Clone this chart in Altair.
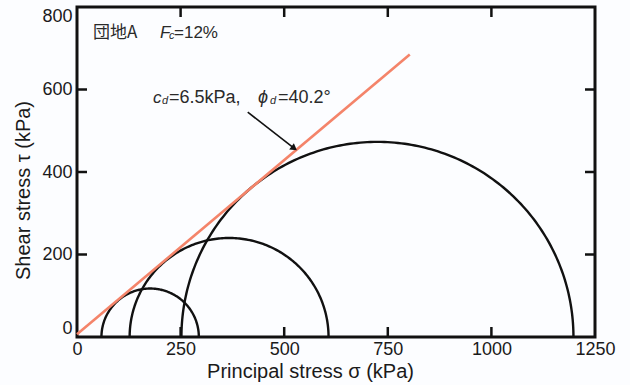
import altair as alt
import pandas as pd

# ---- data ----
sigma3 = [59, 127, 252]        # minor principal stress (kPa)
sigma1 = [294, 607, 1198]      # major principal stress (kPa)
c_d = 6.5                      # cohesion (kPa)
phi_d = 40.2                   # friction angle (deg)
env_sigma = [0, 803]           # extent of failure envelope (kPa)
x_ticks = [250, 500, 750, 1000]
y_ticks = [200, 400, 600]
arrow_sigma = [412, 522]
arrow_tau = [545, 459]

W, H = 518, 330
FONT = "Liberation Sans"
INK = "#1a1a1a"

xs = alt.Scale(domain=[0, 1250], nice=False, zero=False)
ys = alt.Scale(domain=[0, 800], nice=False, zero=False)

xaxis = alt.Axis(values=[0, 250, 500, 750, 1000, 1250], format="d", ticks=False, domain=False,
                 grid=False, labelFont=FONT, labelFontSize=18, labelColor=INK, labelPadding=3,
                 title="Principal stress σ (kPa)", titleFont=FONT, titleFontSize=20,
                 titleFontWeight="normal", titleColor=INK, titleX=233, titleY=40,
                 titleBaseline="alphabetic", titleAnchor="middle", labelFlush=False)
yaxis = alt.Axis(values=[0, 200, 400, 600, 800], format="d", ticks=False, domain=False, grid=False,
                 labelFont=FONT, labelFontSize=18, labelColor=INK, labelPadding=5,
                 labelFlush=True,
                 title="Shear stress τ (kPa)", titleFont=FONT, titleFontSize=20,
                 titleFontWeight="normal", titleColor=INK, titleX=-54, titleY=183,
                 titleAngle=270, titleBaseline="middle", titleAlign="center")


def X(f):
    return alt.X(f, scale=xs, axis=xaxis)


def Y(f):
    return alt.Y(f, scale=ys, axis=yaxis)


layers = []

# Mohr circles
for i, (s3, s1) in enumerate(zip(sigma3, sigma1)):
    c = (s1 + s3) / 2
    r = (s1 - s3) / 2
    circ = alt.Chart(alt.sequence(0, 180.5, 1, as_="t")).transform_calculate(
        s=f"{c} + {r}*cos(datum.t*PI/180)",
        tau=f"{r}*sin(datum.t*PI/180)",
    ).mark_line(color="#111", strokeWidth=2.4).encode(
        x=X("s:Q"), y=Y("tau:Q"), order="t:Q",
    )
    layers.append(circ)

# failure envelope
env = alt.Chart(pd.DataFrame({"s": env_sigma})).transform_calculate(
    tau=f"{c_d} + datum.s*tan({phi_d}*PI/180)"
).mark_line(color="#f4846a", strokeWidth=2.6).encode(x=X("s:Q"), y=Y("tau:Q"))
layers.append(env)

# inward ticks
tick_style = dict(color="#111", strokeWidth=2.5)
xt = pd.DataFrame({"s": x_ticks})
yt = pd.DataFrame({"tau": y_ticks})
layers.append(alt.Chart(xt).mark_rule(**tick_style).encode(
    x=X("s:Q"), y=alt.value(H), y2=alt.value(H - 10)))
layers.append(alt.Chart(xt).mark_rule(**tick_style).encode(
    x=X("s:Q"), y=alt.value(0), y2=alt.value(10)))
layers.append(alt.Chart(yt).mark_rule(**tick_style).encode(
    y=Y("tau:Q"), x=alt.value(0), x2=alt.value(10)))
layers.append(alt.Chart(yt).mark_rule(**tick_style).encode(
    y=Y("tau:Q"), x=alt.value(W - 10), x2=alt.value(W)))

# arrow
arr = pd.DataFrame({"s": [arrow_sigma[0]], "tau": [arrow_tau[0]],
                    "s2": [arrow_sigma[1]], "tau2": [arrow_tau[1]]})
layers.append(alt.Chart(arr).mark_rule(color="#111", strokeWidth=1.6).encode(
    x=X("s:Q"), y=Y("tau:Q"), x2="s2:Q", y2="tau2:Q"))
layers.append(alt.Chart(pd.DataFrame({"s": [arrow_sigma[1]], "tau": [arrow_tau[1]]}))
              .mark_point(shape="triangle", filled=True, color="#111", size=60, angle=127, opacity=1)
              .encode(x=X("s:Q"), y=Y("tau:Q")))


# text annotations (pixel positions inside plot area)
def txt(s, x, y, size=17, italic=False, font=FONT):
    return alt.Chart(pd.DataFrame({"a": [s]})).mark_text(
        align="left", baseline="middle", font=font, fontSize=size,
        fontStyle="italic" if italic else "normal", color="#2a2a2a"
    ).encode(text="a:N", x=alt.value(x), y=alt.value(y))


layers += [
    txt("団地A", 16, 26, size=17, font="Noto Sans CJK JP"),
    txt("F", 83, 26, italic=True),
    txt("c", 92, 29, size=11, italic=True),
    txt("=12%", 97, 26),
    txt("c", 76, 91, italic=True),
    txt("d", 85, 94, size=11, italic=True),
    txt("=6.5kPa,", 92, 91, size=18),
    txt("ϕ", 181, 91, size=18, italic=True),
    txt("d", 193, 94, size=11, italic=True),
    txt("=40.2°", 201, 91, size=18),
]

chart = alt.layer(*layers).properties(
    width=W, height=H,
    padding={"left": 77, "top": 7, "right": 35, "bottom": 48},
    autosize=alt.AutoSizeParams(type="none"),
    background="#fcfdff",
).configure_view(stroke="#111", strokeWidth=3)

chart.save("out.html", embed_options={"renderer": "svg", "actions": False})
